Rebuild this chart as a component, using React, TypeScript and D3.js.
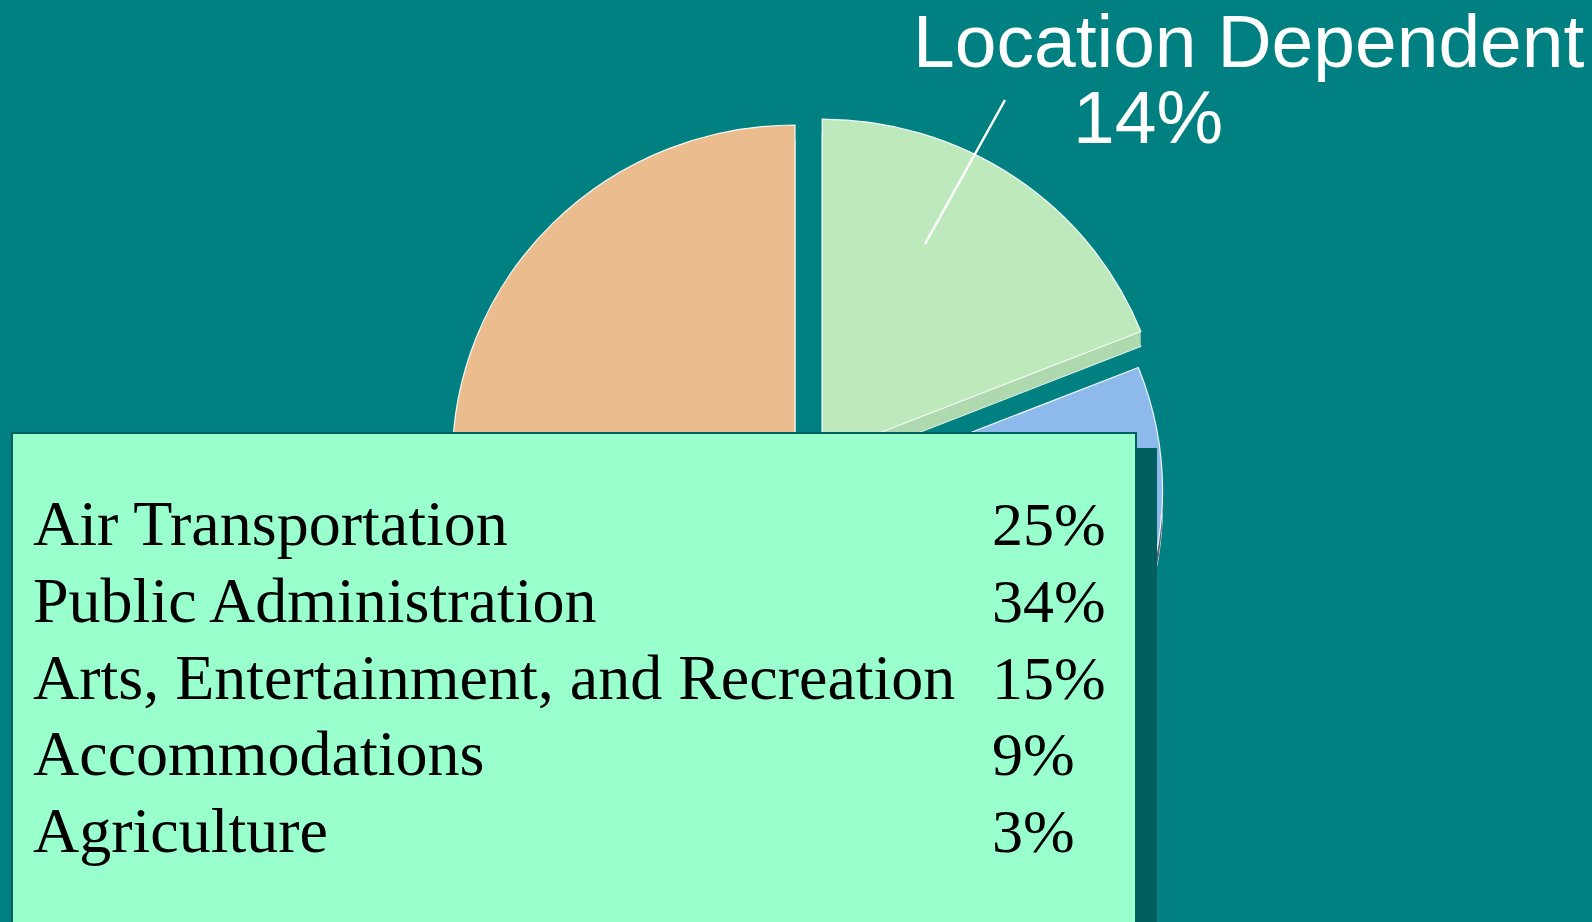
import React from "react";
import * as d3 from "d3";

// ---- data ----
// Pie slices in clockwise order starting at 12 o'clock (shares estimated from the visible geometry)
const pieLabels = [
  "Location Dependent",
  "Public Administration",
  "Arts, Entertainment, and Recreation",
  "Accommodations",
  "Agriculture",
  "Air Transportation",
];
const pieValues = [19, 34, 12, 7, 3, 25];
const pieColors = ["#BDE9BD", "#8DBAEB", "#C9A0DC", "#F2E38C", "#E89A9A", "#EABC8E"];
const pieWallColors = ["#AFD9AF", "#56677F", "#A884B8", "#CDBF70", "#C47F7F", "#D0A578"];
// explode offsets (pixels) for each slice
const pieOffsets: [number, number][] = [
  [13.5, -19.5],
  [11, 16.5],
  [0, 0],
  [0, 0],
  [0, 0],
  [-13.7, -13.7],
];

const legendLabels = [
  "Air Transportation",
  "Public Administration",
  "Arts, Entertainment, and Recreation",
  "Accommodations",
  "Agriculture",
];
const legendValues = ["25%", "34%", "15%", "9%", "3%"];

const calloutTitle = "Location Dependent";
const calloutValue = "14%";

// ---- layout ----
const W = 1592;
const H = 922;
const CX = 808.7;
const CY = 474.7;
const R = 336;
const SX = 1.02;
const DEPTH = 15;

export default function App() {
  const arcs = d3
    .pie<number>()
    .sort(null)
    .startAngle(0)
    .endAngle(2 * Math.PI)(pieValues);
  const arcGen = d3.arc<d3.PieArcDatum<number>>().innerRadius(0).outerRadius(R);

  // draw back to front: Air Transportation, Location Dependent, hidden ones, Public Administration
  const order = [5, 0, 2, 3, 4, 1];

  const rowY = d3.scaleLinear().domain([0, legendLabels.length - 1]).range([545, 852]);

  return (
    <svg
      width={W}
      height={H}
      style={{ position: "absolute", left: 0, top: 0, background: "#008080" }}
    >
      <rect x={0} y={0} width={W} height={H} fill="#008080" />
      {order.map((i) => {
        const a = arcs[i];
        const [ox, oy] = pieOffsets[i];
        const d = arcGen(a) || "";
        const walls = d3.range(DEPTH, 0, -1);
        return (
          <g key={pieLabels[i]} transform={`translate(${CX + ox},${CY + oy})`}>
            {walls.map((k) => (
              <path
                key={k}
                d={d}
                transform={`translate(0,${k}) scale(${SX},1)`}
                fill={pieWallColors[i]}
                stroke={k === DEPTH ? "#FFFFFF" : "none"}
                strokeOpacity={0.8}
                strokeWidth={1}
              />
            ))}
            <path
              d={d}
              transform={`scale(${SX},1)`}
              fill={pieColors[i]}
              stroke="#FFFFFF"
              strokeWidth={1.2}
              strokeOpacity={0.9}
            />
          </g>
        );
      })}

      {/* callout */}
      <line x1={1005} y1={100} x2={925} y2={244} stroke="#FFFFFF" strokeWidth={2.5} />
      <text
        x={913}
        y={67}
        fill="#FFFFFF"
        fontFamily="'Liberation Sans', Arial, sans-serif"
        fontSize={75}
      >
        {calloutTitle}
      </text>
      <text
        x={1073}
        y={143}
        fill="#FFFFFF"
        fontFamily="'Liberation Sans', Arial, sans-serif"
        fontSize={75}
      >
        {calloutValue}
      </text>

      {/* legend table */}
      <rect x={31} y={448} width={1126} height={490} fill="#005F5F" />
      <rect x={12} y={433} width={1124} height={490} fill="#99FFCC" stroke="#006060" strokeWidth={2} />
      {legendLabels.map((lab, i) => (
        <g key={lab}>
          <text
            x={33}
            y={rowY(i)}
            fill="#000000"
            fontFamily="'Liberation Serif', 'Times New Roman', serif"
            fontSize={64}
          >
            {lab}
          </text>
          <text
            x={992}
            y={rowY(i)}
            fill="#000000"
            fontFamily="'Liberation Serif', 'Times New Roman', serif"
            fontSize={62}
          >
            {legendValues[i]}
          </text>
        </g>
      ))}
    </svg>
  );
}
